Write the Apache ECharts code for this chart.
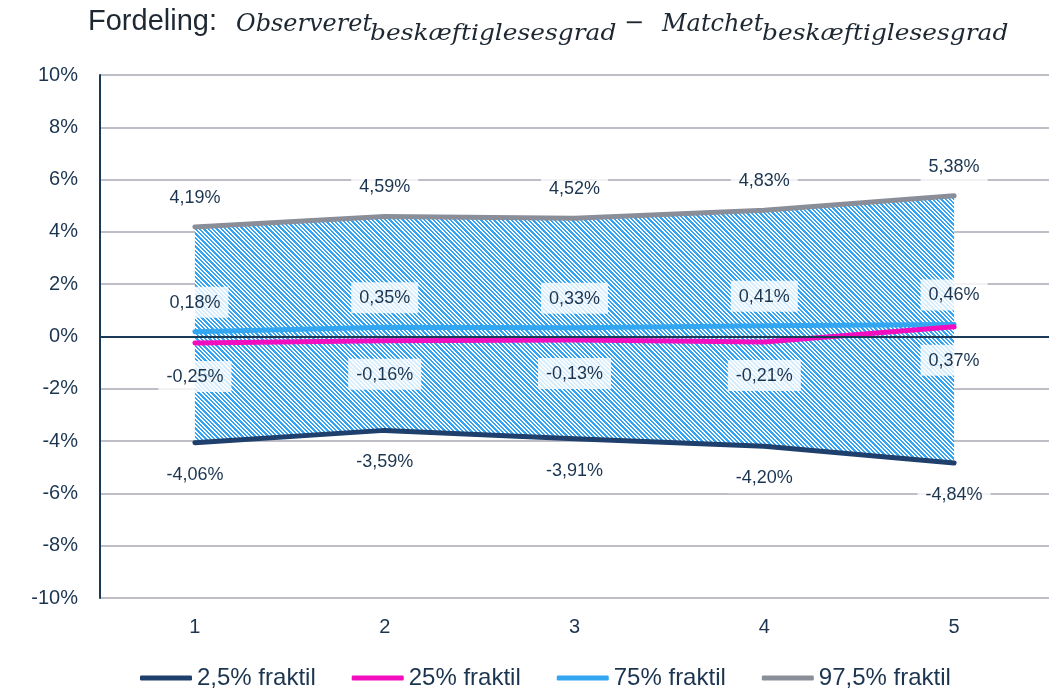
<!DOCTYPE html>
<html>
<head>
<meta charset="utf-8">
<script src="https://cdn.jsdelivr.net/npm/echarts@6/dist/echarts.min.js"></script>
<style>
  html, body { margin: 0; padding: 0; background: #fff; }
  #chart { width: 1056px; height: 692px; }
</style>
</head>
<body>
<div id="chart"></div>
<script>
// Categories on the x axis
var categories = ['1', '2', '3', '4', '5'];

// Quantiles of the difference (percent)
var p025 = [-4.06, -3.59, -3.91, -4.20, -4.84];
var p25  = [-0.25, -0.16, -0.13, -0.21, 0.37];
var p75  = [0.18, 0.35, 0.33, 0.41, 0.46];
var p975 = [4.19, 4.59, 4.52, 4.83, 5.38];

// Y axis ticks (percent)
var yTicks = [-10, -8, -6, -4, -2, 0, 2, 4, 6, 8, 10];

var seriesNames = ['2,5% fraktil', '25% fraktil', '75% fraktil', '97,5% fraktil'];

var textColor = '#1B3550';
var fontFamily = '"Liberation Sans", Arial, sans-serif';
var mathFont = '"DejaVu Serif", serif';
var titleColor = '#1E2833';

// Height of the band between the outer quantiles, stacked on the lower bound
var bandHeight = p975.map(function (v, i) { return +(v - p025[i]).toFixed(4); });

// Diagonal hatch tile for the band fill (stripes running down to the right)
function hatchTile() {
  var size = 13, period = size / 3;
  var c = document.createElement('canvas');
  c.width = size; c.height = size;
  var ctx = c.getContext('2d');
  ctx.fillStyle = '#ffffff';
  ctx.fillRect(0, 0, size, size);
  ctx.fillStyle = '#33A4F4';
  for (var y = 0; y < size; y++) {
    for (var x = 0; x < size; x++) {
      var t = ((x - y) % period + period) % period;
      if (t < period * 0.5) ctx.fillRect(x, y, 1, 1);
    }
  }
  return c;
}

function fmt(v) {
  return v.toFixed(2).replace('.', ',') + '%';
}

function labelCfg(position, distance) {
  return {
    show: true,
    position: position,
    distance: distance,
    fontSize: 18,
    fontFamily: fontFamily,
    color: textColor,
    backgroundColor: 'rgba(255,255,255,0.8)',
    padding: [7, 8, 6, 8],
    formatter: function (p) { return fmt(p.value); }
  };
}

function lineSeries(name, data, color, width, labelPos, distance, z) {
  return {
    name: name,
    type: 'line',
    data: data,
    z: z,
    symbol: 'circle',
    symbolSize: 2,
    showSymbol: true,
    lineStyle: { color: color, width: width, cap: 'round', join: 'round' },
    itemStyle: { color: color },
    label: labelCfg(labelPos, distance),
    labelLayout: { hideOverlap: false },
    emphasis: { disabled: true }
  };
}

// Title pieces: plain lead-in, italic terms and widened subscripts
function titleText(text, x, y, font, scaleX) {
  return {
    type: 'text',
    x: x,
    y: y,
    scaleX: scaleX || 1,
    silent: true,
    style: {
      text: text,
      font: font,
      fill: titleColor,
      verticalAlign: 'middle',
      align: 'left'
    }
  };
}

var mainFont = 'italic 24px ' + mathFont;
var subFont = 'italic 22px ' + mathFont;

var chart = echarts.init(document.getElementById('chart'), null, { renderer: 'canvas' });

var option = {
  animation: false,
  backgroundColor: '#ffffff',
  graphic: [
    titleText('Fordeling:', 88, 22, '29px ' + fontFamily),
    titleText('Observeret', 236, 25, mainFont),
    titleText('beskæftiglesesgrad', 370, 34, subFont, 1.13),
    titleText('−', 624, 24, '24px ' + mathFont),
    titleText('Matchet', 662, 25, mainFont),
    titleText('beskæftiglesesgrad', 762, 34, subFont, 1.13)
  ],
  grid: { left: 100, right: 7, top: 75, bottom: 94, containLabel: false },
  legend: {
    bottom: -3,
    left: 135,
    data: seriesNames,
    itemWidth: 52,
    itemHeight: 5,
    itemGap: 36,
    icon: 'roundRect',
    textStyle: { fontSize: 24, fontFamily: fontFamily, color: textColor },
    selectedMode: false
  },
  xAxis: {
    type: 'category',
    data: categories,
    boundaryGap: true,
    axisLine: { show: false },
    axisTick: { show: false },
    axisLabel: { fontSize: 20, fontFamily: fontFamily, color: textColor, margin: 19 },
    splitLine: { show: false }
  },
  yAxis: {
    type: 'value',
    min: yTicks[0],
    max: yTicks[yTicks.length - 1],
    interval: 2,
    axisLine: { show: true, onZero: false, lineStyle: { color: '#1B3A57', width: 2 } },
    axisTick: { show: false },
    axisLabel: {
      fontSize: 20, fontFamily: fontFamily, color: textColor, margin: 22,
      formatter: function (v) { return v + '%'; }
    },
    splitLine: { show: true, lineStyle: { color: '#BEBEC6', width: 2 } }
  },
  series: [
    {
      name: 'base',
      type: 'line',
      data: p025,
      stack: 'band',
      stackStrategy: 'all',
      symbol: 'none',
      lineStyle: { width: 0, opacity: 0 },
      silent: true,
      z: 1,
      markLine: {
        silent: true,
        symbol: 'none',
        label: { show: false },
        lineStyle: { color: '#1B3A57', width: 2, type: 'solid' },
        data: [{ yAxis: 0 }]
      }
    },
    {
      name: 'band',
      type: 'line',
      data: bandHeight,
      stack: 'band',
      stackStrategy: 'all',
      symbol: 'none',
      lineStyle: { width: 0, opacity: 0 },
      silent: true,
      z: 1,
      areaStyle: { color: { image: hatchTile(), repeat: 'repeat' }, opacity: 1 }
    },
    lineSeries(seriesNames[0], p025, '#1F3F6C', 5, 'bottom', 15, 3),
    lineSeries(seriesNames[1], p25, '#F20DBE', 5, 'bottom', 17, 4),
    lineSeries(seriesNames[2], p75, '#33A6F2', 5, 'top', 13, 3),
    lineSeries(seriesNames[3], p975, '#8A8E98', 5, 'top', 13, 3)
  ]
};

chart.setOption(option);
</script>
</body>
</html>
